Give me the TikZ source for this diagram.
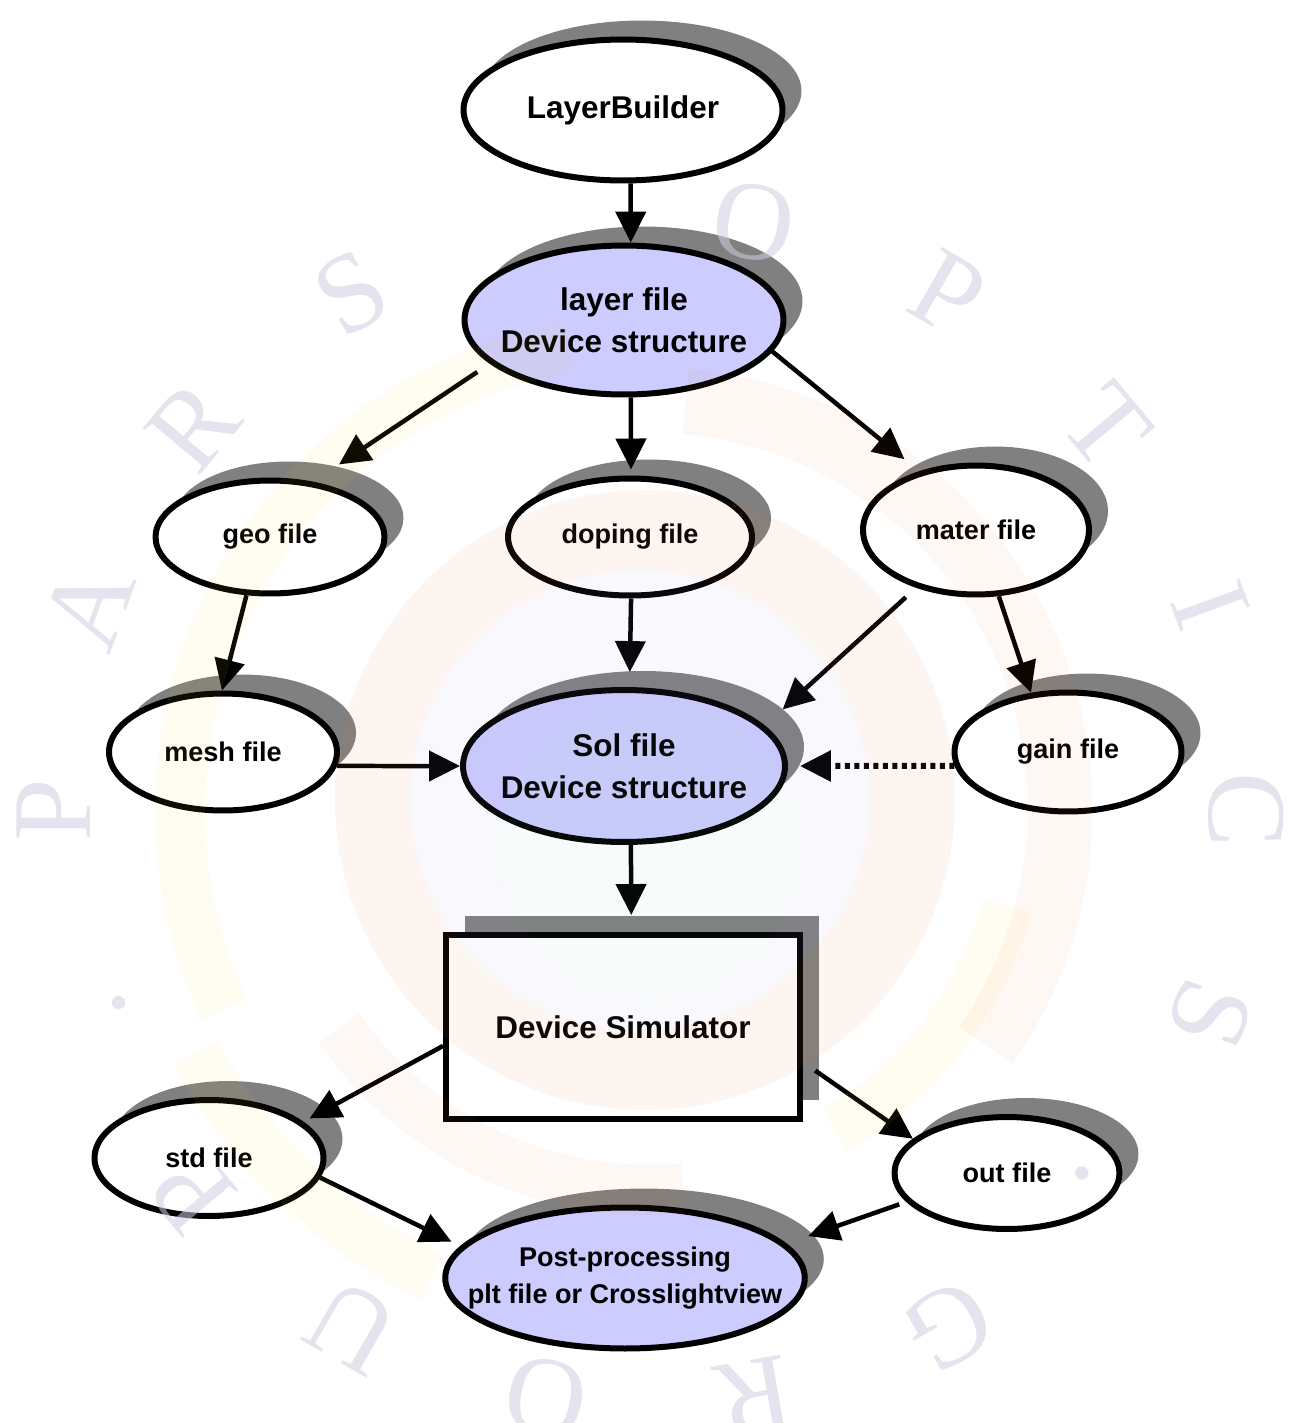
\documentclass[tikz,border=0pt]{standalone}
\usepackage{fontspec}
\setmainfont{Liberation Sans}
\newfontfamily\markfont{Liberation Serif}
\usepackage{xcolor}
\usepackage{tikz}
\usetikzlibrary{shapes,arrows,positioning,calc,shadows,arrows.meta}

\definecolor{lavender}{HTML}{CCCCFF}
\definecolor{shadowgrey}{HTML}{808080}
\definecolor{markgrey}{HTML}{D2CCE2}
\definecolor{ringpeach}{HTML}{F07838}
\definecolor{ringyellow}{HTML}{FFD21E}
\definecolor{ringlav}{HTML}{9C8CE0}
\definecolor{ringgreen}{HTML}{6CC494}

\tikzset{
  filenode/.style={ellipse, draw=black, line width=0.12cm, fill=white,
    inner xsep=-0.6cm, inner ysep=0pt, align=center,
    font=\bfseries\fontsize{15.4}{21}\selectfont,
    drop shadow={shadow xshift=0.38cm, shadow yshift=0.38cm, opacity=1, fill=shadowgrey}},
  bignode/.style={filenode, font=\bfseries\fontsize{17.9}{24}\selectfont},
  simbox/.style={rectangle, draw=black, line width=0.12cm, fill=white,
    minimum width=7.08cm, minimum height=3.68cm,
    font=\bfseries\fontsize{17.9}{24}\selectfont,
    drop shadow={shadow xshift=0.38cm, shadow yshift=0.38cm, opacity=1, fill=shadowgrey}},
  arr/.style={line width=0.09cm, -{Triangle[length=0.62cm,width=0.6cm]}},
  dotarr/.style={arr, line width=0.12cm, dash pattern=on 0.1cm off 0.09cm},
  markletter/.style={font=\markfont\fontsize{64}{64}\selectfont, text=markgrey, text opacity=0.55},
}

\begin{document}
\begin{tikzpicture}[x=0.02cm, y=-0.02cm]
        \fill[white] (0,0) rectangle (1288,1423);
        \useasboundingbox (0,0) rectangle (1288,1423);

        % files
        \node[bignode, minimum width=6.38cm, minimum height=2.82cm] (builder) at (623,110) {LayerBuilder};
        \node[bignode, fill=lavender, minimum width=6.38cm, minimum height=2.98cm] (layer) at (624,320) {layer file\\Device structure};
        \node[filenode, minimum width=4.58cm, minimum height=2.26cm] (geo) at (270,537) {geo file};
        \node[filenode, minimum width=4.88cm, minimum height=2.34cm] (doping) at (630,537) {doping file};
        \node[filenode, minimum width=4.52cm, minimum height=2.58cm] (mater) at (976,530) {mater file};
        \node[filenode, minimum width=4.56cm, minimum height=2.34cm] (mesh) at (223,752) {mesh file};
        \node[bignode, fill=lavender, minimum width=6.44cm, minimum height=3.04cm] (sol) at (624,766) {Sol file\\Device structure};
        \node[filenode, minimum width=4.54cm, minimum height=2.38cm] (gain) at (1068,752) {gain file};
        \node[simbox] (sim) at (623,1027) {Device Simulator};
        \node[filenode, minimum width=4.58cm, minimum height=2.32cm] (std) at (209,1158) {std file};
        \node[filenode, minimum width=4.50cm, minimum height=2.24cm] (out) at (1007,1173) {out file};
        \node[filenode, fill=lavender, minimum width=7.12cm, minimum height=2.82cm] (post) at (625,1278) {Post-processing\\plt file or Crosslightview};

        % flow
        \draw[arr] (builder.-84) -- (layer.85);
        \draw[arr, shorten <=0.3cm, shorten >=0.62cm] (layer.198) -- (geo.52);
        \draw[arr, shorten >=0.12cm] (layer.-85) -- (doping.89);
        \draw[arr, shorten >=0.38cm] (layer.-12) -- (mater.134);
        \draw[arr] (geo.-112) -- (mesh.91);
        \draw[arr, shorten >=0.3cm] (doping.-89) -- (sol.86);
        \draw[arr, shorten <=0.28cm, shorten >=0.48cm] (mater.-136) -- (sol.16);
        \draw[arr] (mater.-71) -- (gain.122);
        \draw[arr] (mesh.-7) -- (sol.180);
        \draw[dotarr, shorten >=0.24cm] (gain.187) -- (sol.0);
        \draw[arr, shorten >=0.34cm] (sol.-85) -- (sim.85);
        \draw[arr, shorten >=0.14cm] (sim.186) -- (std.21);
        \draw[arr, shorten <=0.3cm] (sim.-11) -- (out.160);
        \draw[arr, shorten >=0.2cm] (std.-10) -- (post.169);
        \draw[arr, shorten <=0.15cm, shorten >=0.46cm] (out.196) -- (post.12);

        % watermark
        \begin{scope}[shift={(650,810)}, x=1cm, y=1cm]
          \fill[ringpeach, fill opacity=0.07, even odd rule] (-0.1,0.2) circle[radius=6.2] (-0.2,0.2) circle[radius=4.6];
          \fill[ringlav, fill opacity=0.06, even odd rule] (-0.2,0.2) circle[radius=4.6] (0,-0.8) circle[radius=3];
          \fill[ringgreen, fill opacity=0.05] (0,-0.8) circle[radius=3];
          \draw[ringyellow, line width=1cm, draw opacity=0.06] (100:9.4) arc[start angle=100, end angle=205, radius=9.4];
          \draw[ringyellow, line width=1cm, draw opacity=0.06] (208:10.3) arc[start angle=208, end angle=245, radius=10.3];
          \draw[ringpeach, line width=1.3cm, draw opacity=0.05] (85:8.2) arc[start angle=85, end angle=-35, radius=8.2];
          \draw[ringyellow, line width=1cm, draw opacity=0.06] (-15:7.4) arc[start angle=-15, end angle=-60, radius=7.4];
          \draw[ringpeach, line width=1cm, draw opacity=0.05] (215:7.6) arc[start angle=215, end angle=275, radius=7.6];
          \foreach \ch/\ang in {P/180,A/160,R/140,S/120,O/80,P/60,T/40,I/20,C/0,S/-20,./-40,G/-60,R/-80,O/-100,U/-120,P/-140,./-160}
            \node[markletter, rotate=\ang-90, anchor=base] (wm\ang) at (\ang:11.2) {\ch};
        \end{scope}
    \end{tikzpicture}
\end{document}
